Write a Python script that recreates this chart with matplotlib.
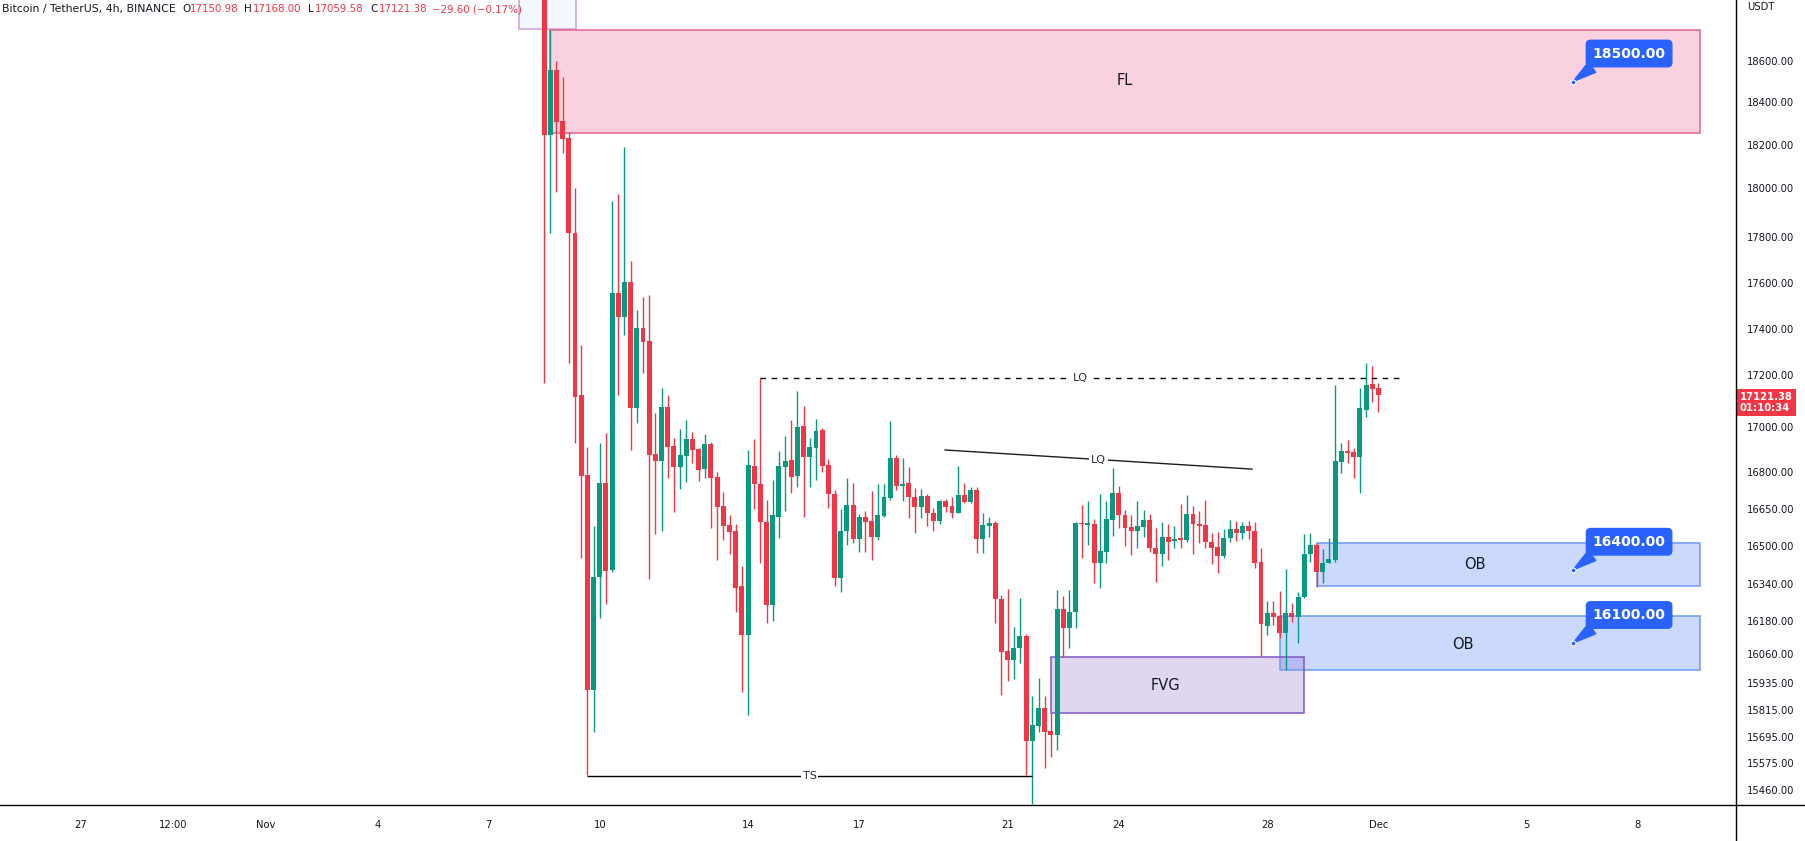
import datetime as dt

import matplotlib
matplotlib.use("Agg")
import matplotlib.dates as mdates
import matplotlib.pyplot as plt
import numpy as np
from matplotlib.lines import Line2D
from matplotlib.patches import Rectangle

UP = "#089981"
DOWN = "#f23645"
INK = "#131722"
BLUE = "#2962ff"

# 4h BTCUSDT candles, first bar 2022-11-08 12:00
first_bar = dt.datetime(2022, 11, 8, 12)
bar_hours = 4

opens = [
    19580, 18247, 18556, 18312, 18233, 17816, 17123, 16788, 15904, 16370,
    16755, 16400, 17556, 17452, 17604, 17073, 17404, 17348, 16880, 16849,
    17077, 16916, 16822, 16871, 16947, 16902, 16813, 16925, 16780, 16662,
    16585, 16561, 16331, 16129, 16827, 16751, 16597, 16250, 16618, 16822,
    16853, 16784, 17004, 16867, 16907, 16986, 16831, 16711, 16365, 16561,
    16666, 16528, 16618, 16601, 16536, 16622, 16694, 16862, 16743, 16755,
    16698, 16658, 16703, 16634, 16601, 16682, 16662, 16634, 16707, 16678,
    16727, 16528, 16581, 16593, 16275, 16071, 16034, 16082, 16125, 15677,
    15744, 15824, 15722, 15704, 16232, 16154, 16219, 16593, 16585, 16589,
    16428, 16475, 16605, 16715, 16626, 16577, 16561, 16577, 16605, 16492,
    16466, 16536, 16520, 16532, 16524, 16630, 16589, 16585, 16516, 16496,
    16458, 16532, 16569, 16553, 16581, 16561, 16433, 16162, 16215, 16201,
    16136, 16215, 16197, 16284, 16466, 16504, 16391, 16429, 16441, 16845,
    16893, 16889, 16867, 17065, 17165, 17150.98,
]
highs = [
    19700, 18751, 18600, 18522, 18260, 18000, 17330, 16911, 16581, 16929,
    16973, 17947, 17976, 18191, 17696, 17483, 17539, 17548, 17054, 17150,
    17123, 16951, 16991, 17027, 16978, 16907, 16969, 16933, 16800, 16719,
    16626, 16589, 16416, 16898, 16947, 17188, 16686, 16768, 16893, 16960,
    17027, 17138, 17081, 16951, 17031, 16995, 16858, 16727, 16650, 16776,
    16755, 16630, 16642, 16723, 16751, 16751, 17023, 16876, 16862, 16822,
    16735, 16731, 16711, 16654, 16686, 16690, 16698, 16827, 16755, 16739,
    16739, 16634, 16618, 16601, 16292, 16318, 16158, 16280, 16132, 15877,
    15957, 15877, 15802, 16314, 16288, 16314, 16597, 16666, 16682, 16609,
    16711, 16682, 16818, 16743, 16646, 16626, 16682, 16646, 16630, 16573,
    16597, 16589, 16581, 16670, 16707, 16662, 16642, 16686, 16553, 16557,
    16569, 16605, 16601, 16597, 16601, 16597, 16492, 16266, 16266, 16310,
    16403, 16258, 16305, 16549, 16553, 16512, 16487, 16532, 17161, 16929,
    16942, 16907, 17150, 17252, 17239, 17168.00,
]
lows = [
    17169, 17816, 17984, 18163, 17252, 16929, 16449, 15524, 15717, 16193,
    16254, 16390, 17123, 17374, 16898, 17015, 17209, 16361, 16549, 16561,
    16776, 16638, 16731, 16759, 16840, 16764, 16776, 16573, 16441, 16524,
    16466, 16219, 15895, 15793, 16650, 16429, 16171, 16180, 16533, 16642,
    16715, 16739, 16618, 16739, 16768, 16800, 16654, 16330, 16305, 16504,
    16512, 16475, 16475, 16441, 16524, 16618, 16686, 16727, 16682, 16613,
    16553, 16613, 16581, 16561, 16589, 16638, 16613, 16634, 16674, 16674,
    16471, 16471, 16536, 16173, 15882, 15944, 15952, 16021, 15524, 15400,
    15717, 15554, 15603, 15635, 16047, 16082, 16154, 16449, 16504, 16344,
    16323, 16428, 16540, 16573, 16500, 16462, 16492, 16536, 16475, 16348,
    16416, 16441, 16492, 16492, 16516, 16466, 16512, 16492, 16424, 16386,
    16449, 16516, 16520, 16528, 16528, 16407, 16051, 16129, 16165, 16118,
    15991, 16176, 16100, 16280, 16433, 16327, 16344, 16429, 16433, 16796,
    16840, 16776, 16715, 17038, 17096, 17059.58,
]
closes = [
    18247, 18556, 18307, 18228, 17816, 17115, 16784, 15904, 16370, 16755,
    16395, 17556, 17452, 17604, 17073, 17404, 17343, 16876, 16849, 17077,
    16911, 16822, 16876, 16947, 16898, 16809, 16925, 16776, 16658, 16581,
    16557, 16323, 16129, 16831, 16751, 16597, 16250, 16626, 16827, 16849,
    16780, 17000, 16867, 16911, 16982, 16827, 16711, 16365, 16561, 16666,
    16528, 16618, 16597, 16536, 16626, 16698, 16862, 16743, 16751, 16698,
    16658, 16703, 16634, 16601, 16682, 16658, 16634, 16707, 16678, 16727,
    16528, 16585, 16593, 16275, 16067, 16034, 16082, 16125, 15677, 15748,
    15824, 15717, 15704, 16232, 16154, 16219, 16593, 16589, 16593, 16428,
    16479, 16609, 16715, 16626, 16573, 16561, 16581, 16605, 16492, 16466,
    16536, 16516, 16528, 16524, 16630, 16589, 16581, 16516, 16492, 16458,
    16532, 16569, 16553, 16581, 16561, 16429, 16169, 16215, 16197, 16136,
    16215, 16197, 16284, 16466, 16504, 16391, 16429, 16445, 16849, 16893,
    16884, 16867, 17073, 17161, 17146, 17121.38,
]

# right price scale labels
price_ticks = [18600, 18400, 18200, 18000, 17800, 17600, 17400, 17200, 17000,
               16800, 16650, 16500, 16340, 16180, 16060, 15935, 15815, 15695,
               15575, 15460]

# bottom time scale labels
time_ticks = ["2022-10-27", "2022-10-29 12:00", "2022-11-01", "2022-11-04",
              "2022-11-07", "2022-11-10", "2022-11-14", "2022-11-17",
              "2022-11-21", "2022-11-24", "2022-11-28", "2022-12-01",
              "2022-12-05", "2022-12-08"]
time_labels = ["27", "12:00", "Nov", "4", "7", "10", "14", "17", "21", "24",
               "28", "Dec", "5", "8"]

# drawn zones: (label, start, end, low, high)
fl_zone = ("FL", "2022-11-08 16:00", "2022-12-09 16:00", 18256, 18751)
ob_upper = ("OB", "2022-11-29 08:00", "2022-12-09 16:00", 16332, 16512)
ob_lower = ("OB", "2022-11-28 08:00", "2022-12-09 16:00", 15991, 16201)
fvg_zone = ("FVG", "2022-11-22 04:00", "2022-11-29 00:00", 15802, 16047)

lq_level = 17188
lq_span = ("2022-11-14 08:00", "2022-12-01 14:00")
lq_trend = (("2022-11-19 07:30", 16898), ("2022-11-27 14:10", 16813))
ts_level = 15520
ts_span = ("2022-11-09 16:00", "2022-11-21 16:00")

callout_levels = [18500, 16400, 16100]
callout_time = "2022-12-06 06:00"

last_price = 17121.38
countdown = "01:10:34"

# TradingView price scale as shown: price -> screen row (non uniform spacing)
scale_prices = [14500, 15460, 15575, 15695, 15815, 15935, 16060, 16180, 16340,
                16500, 16650, 16800, 17000, 17200, 17400, 17600, 17800, 18000,
                18200, 18400, 18600, 18800, 20500]
scale_rows = np.array([1015, 790, 763, 737, 710, 683, 654, 621, 584, 546, 509,
                       472, 427, 375, 329, 283, 237, 188, 145, 102, 61, 20, -328],
                      dtype=float)


def to_scale(p):
    return np.interp(p, scale_prices, -scale_rows)


def from_scale(v):
    return np.interp(v, -scale_rows, scale_prices)


def d(s):
    return mdates.date2num(np.datetime64(s))


W, H = 1806, 841
fig = plt.figure(figsize=(W / 100, H / 100), dpi=100)
ax = fig.add_axes([0, 1 - 805 / H, 1736 / W, 805 / H])
ax.set_yscale("function", functions=(to_scale, from_scale))

times = [mdates.date2num(first_bar + dt.timedelta(hours=bar_hours * i)) for i in range(len(opens))]
o = np.array(opens)
h = np.array(highs)
l = np.array(lows)
c = np.array(closes)
colors = np.where(c >= o, UP, DOWN)
body_w = bar_hours / 24 * 0.8

ax.vlines(times, l, h, colors=colors, linewidth=1.0, zorder=3)
ax.bar(times, np.maximum(np.abs(c - o), 3), bottom=np.minimum(o, c), width=body_w,
       color=colors, linewidth=0, zorder=4)

# zones
ax.add_patch(Rectangle((d("2022-11-07 20:00"), 18756), d("2022-11-09 08:40") - d("2022-11-07 20:00"), 800,
                       facecolor="#f5f8ff", edgecolor="#d2a6dc", linewidth=1.2, zorder=2))
zone_styles = [
    (fl_zone, "#e91e63", 0.2, "#e0628e", d("2022-11-24 04:00")),
    (ob_upper, BLUE, 0.24, "#6d9bf5", d("2022-12-03 14:30")),
    (ob_lower, BLUE, 0.24, "#6d9bf5", d("2022-12-03 06:45")),
    (fvg_zone, "#7e57c2", 0.24, "#7e57c2", d("2022-11-25 06:00")),
]
for (label, start, end, low, high), fill, alpha, edge, text_x in zone_styles:
    x0, x1 = d(start), d(end)
    ax.add_patch(Rectangle((x0, low), x1 - x0, high - low, facecolor=fill, alpha=alpha,
                           edgecolor="none", zorder=2))
    ax.add_patch(Rectangle((x0, low), x1 - x0, high - low, facecolor="none",
                           edgecolor=edge, linewidth=1.1, zorder=2.1))
    ax.text(text_x, (low + high) / 2, label, ha="center", va="center", fontsize=10.5,
            color=INK, zorder=5)

label_box = dict(boxstyle="square,pad=0.15", fc="white", ec="none")

# liquidity level (dashed)
ax.hlines(lq_level, d(lq_span[0]), d(lq_span[1]), colors="black", linewidth=1.0,
          linestyles=(0, (4, 4)), zorder=5)
ax.text((d(lq_span[0]) + d(lq_span[1])) / 2, lq_level, "LQ", ha="center", va="center",
        fontsize=8, color="#2a2e39", bbox=label_box, zorder=6)

# sloping liquidity line
(t0, p0), (t1, p1) = lq_trend
ax.plot([d(t0), d(t1)], [p0, p1], color="#1e1e1e", linewidth=1.0, zorder=5)
ax.text((d(t0) + d(t1)) / 2, (p0 + p1) / 2, "LQ", ha="center", va="center",
        fontsize=8, color="#2a2e39", bbox=label_box, zorder=6)

# TS line
ax.hlines(ts_level, d(ts_span[0]), d(ts_span[1]), colors="black", linewidth=1.0, zorder=5)
ax.text((d(ts_span[0]) + d(ts_span[1])) / 2, ts_level, "TS", ha="center", va="center",
        fontsize=8, color="#2a2e39", bbox=label_box, zorder=6)

# price callouts
for level in callout_levels:
    ax.annotate(f"{level:.2f}", xy=(d(callout_time), level), xytext=(56, 28),
                textcoords="offset pixels", ha="center", va="center", color="white",
                fontsize=10, fontweight="bold", zorder=8,
                bbox=dict(boxstyle="round,pad=0.45,rounding_size=0.3", fc=BLUE, ec=BLUE),
                arrowprops=dict(arrowstyle="wedge,tail_width=0.9,shrink_factor=0.5",
                                fc=BLUE, ec=BLUE, relpos=(0.14, 0.1), shrinkA=0, shrinkB=0))
    ax.plot(d(callout_time), level, "o", ms=3.5, color=BLUE, mec="white", mew=0.8, zorder=9)

# last price tag on the scale
ax.annotate(f"{last_price:.2f}\n{countdown}", xy=(1.0, last_price),
            xycoords=("axes fraction", "data"), xytext=(4, -7), textcoords="offset pixels",
            ha="left", va="center", color="white", fontsize=7.2, fontweight="bold",
            linespacing=1.15, annotation_clip=False,
            bbox=dict(boxstyle="square,pad=0.3", fc=DOWN, ec="none"))

ax.set_xlim(d("2022-10-24 19:50"), d("2022-12-10 15:27"))
ax.set_ylim(15396, 18898)
for s in ax.spines.values():
    s.set_visible(False)

ax.yaxis.tick_right()
ax.set_yticks(price_ticks)
ax.set_yticklabels([f"{v:.2f}" for v in price_ticks])
ax.yaxis.set_minor_locator(matplotlib.ticker.NullLocator())
ax.tick_params(axis="y", length=0, pad=8, labelsize=7.2, labelcolor=INK)

ax.set_xticks([d(t) for t in time_ticks])
ax.set_xticklabels(time_labels)
ax.tick_params(axis="x", length=0, pad=11, labelsize=7.2, labelcolor=INK)

# scale borders
fig.add_artist(Line2D([0, 1], [1 - 805 / H] * 2, transform=fig.transFigure, color="black", lw=1))
fig.add_artist(Line2D([1736 / W] * 2, [0, 1], transform=fig.transFigure, color="black", lw=1))
fig.text(1747 / W, 1 - 7 / H, "USDT", fontsize=7.2, color=INK, va="center")

# header
header = [
    (2, "Bitcoin / TetherUS, 4h, BINANCE", INK, 7.8),
    (182, "O", INK, 7.4), (190, f"{opens[-1]:.2f}", DOWN, 7.4),
    (244, "H", INK, 7.4), (253, f"{highs[-1]:.2f}", DOWN, 7.4),
    (308, "L", INK, 7.4), (315, f"{lows[-1]:.2f}", DOWN, 7.4),
    (370, "C", INK, 7.4), (379, f"{closes[-1]:.2f}", DOWN, 7.4),
    (432, "\u221229.60 (\u22120.17%)", DOWN, 7.4),
]
for x, txt, col, size in header:
    fig.text(x / W, 1 - 9 / H, txt, fontsize=size, color=col, va="center", ha="left")

fig.savefig("out.png", dpi=100, facecolor="white")
